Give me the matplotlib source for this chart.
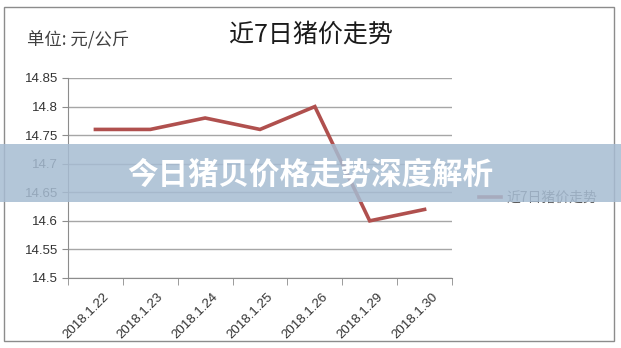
import matplotlib
matplotlib.use('Agg')
import matplotlib.pyplot as plt
from matplotlib.patches import Rectangle

# data
dates = ['2018.1.22', '2018.1.23', '2018.1.24', '2018.1.25', '2018.1.26', '2018.1.29', '2018.1.30']
prices = [14.76, 14.76, 14.78, 14.76, 14.80, 14.60, 14.62]
yticks = [14.5, 14.55, 14.6, 14.65, 14.7, 14.75, 14.8, 14.85]
ytick_labels = ['14.5', '14.55', '14.6', '14.65', '14.7', '14.75', '14.8', '14.85']
series_name = '近7日猪价走势'
title = '近7日猪价走势'
unit = '单位: 元/公斤'
banner = '今日猪贝价格走势深度解析'

plt.rcParams['font.family'] = ['Liberation Sans', 'Noto Sans CJK SC']
cjk = ['Noto Sans CJK SC', 'DejaVu Sans']

W, H = 621, 348
fig = plt.figure(figsize=(W / 100, H / 100), dpi=100)
fig.patch.set_facecolor('white')

# outer chart border
fig.patches.append(Rectangle((4 / W, 1 - 341 / H), 610 / W, 334 / H, transform=fig.transFigure,
                             fill=False, edgecolor='#8c8c8c', linewidth=1.0))

ax = fig.add_axes([68 / W, 1 - 278 / H, 384 / W, 200 / H])
x = list(range(len(dates)))
line, = ax.plot(x, prices, color='#b0504e', linewidth=2.6, solid_joinstyle='miter', zorder=3)
ax.set_xlim(-0.5, len(dates) - 0.5)
ax.set_ylim(14.5, 14.85)
ax.set_yticks(yticks)
ax.set_yticklabels(ytick_labels, fontsize=9.5, color='#333333')
ax.yaxis.grid(True, color='#a6a6a6', linewidth=1.0)
ax.set_axisbelow(True)

ax.set_xticks(x)
ax.set_xticklabels(dates, rotation=45, ha='right', rotation_mode='anchor', fontsize=9.5, color='#333333')
ax.set_xticks([i - 0.5 for i in range(len(dates) + 1)], minor=True)
ax.tick_params(axis='x', which='major', length=0, pad=9)
ax.tick_params(axis='x', which='minor', length=5, color='#8c8c8c', direction='out')
ax.tick_params(axis='y', length=4, color='#8c8c8c', direction='out', pad=3)
for s in ['top', 'right']:
    ax.spines[s].set_visible(False)
for s in ['left', 'bottom']:
    ax.spines[s].set_color('#8c8c8c')
for lab in ax.get_xticklabels():
    lab.set_transform(lab.get_transform() + matplotlib.transforms.ScaledTranslation(5 / 72, 0, fig.dpi_scale_trans))

fig.text(311 / W, 1 - 35 / H, title, fontsize=18, family=cjk, ha='center', va='center', color='#1a1a1a')
fig.text(27 / W, 1 - 40 / H, unit, fontsize=12.5, family=cjk, ha='left', va='center', color='#404040')

# legend
fig.legend([line], [series_name], loc='center left', bbox_to_anchor=(466 / W, 1 - 198 / H),
           frameon=False, prop={'family': cjk, 'size': 10}, handlelength=1.6, handletextpad=0.4,
           labelcolor='#595959')

# banner overlay
fig.patches.append(Rectangle((0, 1 - 202 / H), 1, 58 / H, transform=fig.transFigure,
                             facecolor='#a6bcd2', alpha=0.85, edgecolor='none', zorder=10))
fig.text(310 / W, 1 - 175 / H, banner, fontsize=22, family=cjk, weight='bold', ha='center', va='center',
         color='white', zorder=11)

fig.savefig('out.png', dpi=100)
